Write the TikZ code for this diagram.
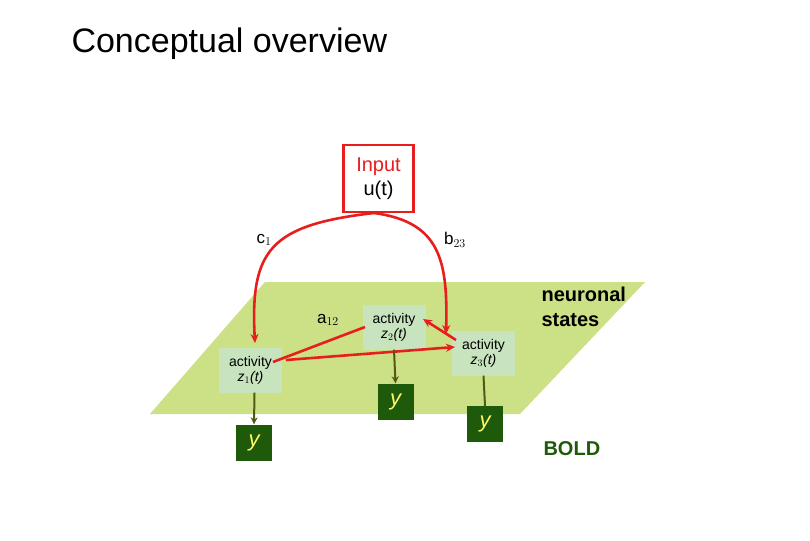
\documentclass[tikz,border=0pt]{standalone}
\usepackage{fontspec}
\setmainfont{Liberation Sans}
\usetikzlibrary{arrows.meta}
\begin{document}
\begin{tikzpicture}[x=1pt,y=-1pt,
  act/.style={fill=green!15!cyan!10!white!85!lime,fill=actfill,minimum width=63,minimum height=45,inner sep=0,align=center,font=\fontsize{14}{15}\selectfont},
  ybox/.style={fill=ydark,minimum width=36,minimum height=36,inner sep=0,text=yellow!60!white,font=\fontsize{22}{22}\selectfont\itshape},
  red arrow/.style={draw=redc,line width=2.6,-{Stealth[length=9,width=8]}},
  olive/.style={draw=olivec,line width=2,-{Stealth[length=7,width=7]}},
  lbl/.style={font=\fontsize{17}{18}\selectfont}]
\definecolor{plane}{RGB}{204,224,133}
\definecolor{actfill}{RGB}{200,228,190}
\definecolor{ydark}{RGB}{30,90,10}
\definecolor{redc}{RGB}{232,30,30}
\definecolor{olivec}{RGB}{80,90,20}
\useasboundingbox (0,0) rectangle (810,540);
\fill[white] (0,0) rectangle (810,540);
\node[anchor=west,font=\fontsize{34}{36}\selectfont] (title) at (68,44) {Conceptual overview};
\fill[plane] (265,282) -- (645,282) -- (520,414) -- (150,414) -- cycle;
\node[draw=redc,line width=2.2,fill=white,minimum width=70,minimum height=67,inner sep=0,align=center,font=\fontsize{20}{24}\selectfont] (in) at (378.5,178.5) {\textcolor{redc}{Input}\\u(t)};
\node[act] (z1) at (250.5,370) {activity\\\textit{z}$_1$\textit{(t)}};
\node[act] (z2) at (394,327) {activity\\\textit{z}$_2$\textit{(t)}};
\node[act] (z3) at (483.5,353) {activity\\\textit{z}$_3$\textit{(t)}};
\node[ybox] (y1) at (254,442.5) {y};
\node[ybox] (y2) at (395.5,401.5) {y};
\node[ybox] (y3) at (485,424) {y};
\node[lbl] (c1) at (264,240) {c$_1$};
\node[lbl] (b23) at (455,240) {b$_{23}$};
\node[lbl] (a12) at (328,320) {a$_{12}$};
\node[anchor=west,align=left,font=\fontsize{20}{25}\selectfont\bfseries] (ns) at (538,307) {neuronal\\states};
\node[anchor=west,text=ydark,font=\fontsize{20}{22}\selectfont\bfseries] (bold) at (540,449) {BOLD};
\coordinate (inb) at (374,213);
\draw[red arrow] (inb) .. controls (270,225) and (250,250) .. (255,343);
\draw[red arrow] (inb) .. controls (440,222) and (448,260) .. (446,334);
\draw[red arrow] (456,340) -- (423,319);
\draw[red arrow] (286,360) -- (455,347);
\draw[draw=redc,line width=2.6] (365,327) -- (273,362);
\draw[olive] (z1.south) ++(4,0) -- (y1.north);
\draw[olive] (z2.south) -- (y2.north);
\draw[draw=olivec,line width=2] (z3.south) -- (y3.north);
\end{tikzpicture}
\end{document}
